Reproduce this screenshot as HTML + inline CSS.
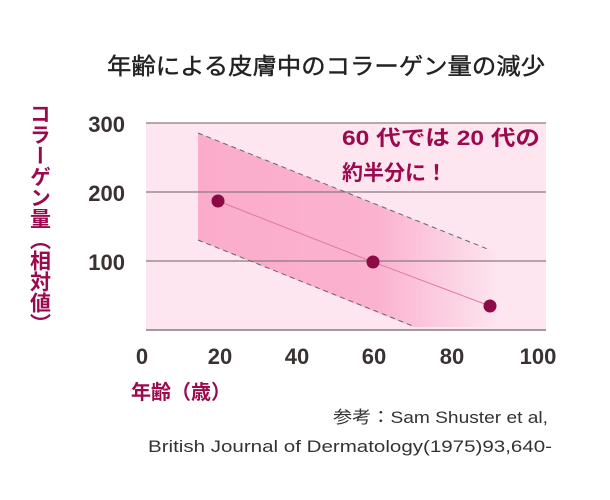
<!DOCTYPE html>
<html><head><meta charset="utf-8"><style>
body{margin:0;width:610px;height:500px;background:#fff;overflow:hidden}
svg{display:block}
text{font-family:"Liberation Sans","Noto Sans CJK JP",sans-serif}
</style></head><body>
<svg width="610" height="500" viewBox="0 0 610 500">
<defs>
<linearGradient id="g" x1="198" y1="0" x2="496" y2="0" gradientUnits="userSpaceOnUse">
<stop offset="0" stop-color="#fbaccb"/>
<stop offset="0.6" stop-color="#fbb2cf"/>
<stop offset="1" stop-color="#fde4ee"/>
</linearGradient>
</defs>
<text x="107" y="74" font-size="23" fill="#222" textLength="438" lengthAdjust="spacingAndGlyphs" stroke="#222" stroke-width="0.4">年齢による皮膚中のコラーゲン量の減少</text>
<rect x="146" y="123" width="400" height="207" fill="#fde6ef"/>
<polygon points="198,133 490,250 496,252 496,327 413,327 198,240" fill="url(#g)"/>
<line x1="146" y1="123" x2="546" y2="123" stroke="#8a7a80" stroke-width="1.2"/>
<line x1="146" y1="192" x2="546" y2="192" stroke="#8a7a80" stroke-width="1.2"/>
<line x1="146" y1="261" x2="546" y2="261" stroke="#8a7a80" stroke-width="1.2"/>
<line x1="146" y1="330" x2="546" y2="330" stroke="#8a7a80" stroke-width="1.5"/>
<line x1="198" y1="133" x2="490" y2="250" stroke="#666" stroke-dasharray="5,4"/>
<line x1="198" y1="240" x2="413" y2="326" stroke="#666" stroke-dasharray="5,4"/>
<polyline points="218,201 373,262 490,306" fill="none" stroke="#e07aa2" stroke-width="1"/>
<circle cx="218" cy="201" r="6.5" fill="#8c0a46"/>
<circle cx="373" cy="262" r="6.5" fill="#8c0a46"/>
<circle cx="490" cy="306" r="6.5" fill="#8c0a46"/>
<text x="342" y="145" font-size="21" font-weight="bold" fill="#9b0a4e" textLength="198" lengthAdjust="spacingAndGlyphs">60 代では 20 代の</text>
<text x="342" y="180" font-size="21" font-weight="bold" fill="#9b0a4e">約半分に！</text>
<g font-size="22" font-weight="bold" fill="#3a3232" text-anchor="end">
<text x="125" y="132">300</text><text x="125" y="201">200</text><text x="125" y="270">100</text>
</g>
<g font-size="22" font-weight="bold" fill="#3a3232" text-anchor="middle">
<text x="142" y="364">0</text><text x="220" y="364">20</text><text x="297" y="364">40</text>
<text x="374" y="364">60</text><text x="452" y="364">80</text><text x="538" y="364">100</text>
</g>
<text x="131" y="399" font-size="20" font-weight="bold" fill="#9b0a4e">年齢（歳）</text>
<text x="39" y="103" font-size="21" font-weight="bold" fill="#9b0a4e" style="writing-mode:vertical-rl" text-anchor="start">コラーゲン量（相対値）</text>
<text x="333" y="423" font-size="17" fill="#333" textLength="215" lengthAdjust="spacingAndGlyphs">参考：Sam Shuster et al,</text>
<text x="148" y="452" font-size="17" fill="#333" textLength="404" lengthAdjust="spacingAndGlyphs">British Journal of Dermatology(1975)93,640-</text>
</svg>
</body></html>
